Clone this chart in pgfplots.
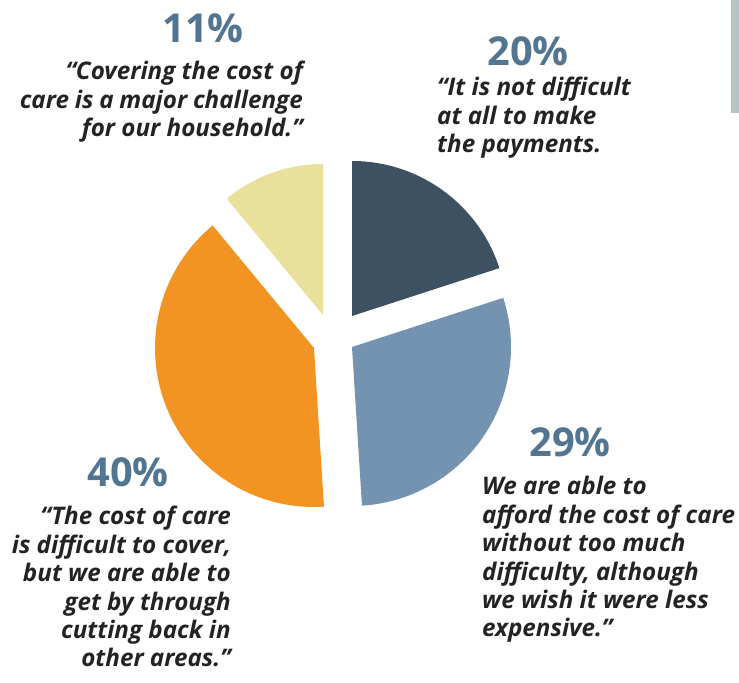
\documentclass[border=0pt]{standalone}
\usepackage{fontspec}
\setmainfont{Open Sans}
\usepackage{pgfplots}
\usepackage{pgfplotstable}
\pgfplotsset{compat=1.18}

\definecolor{sliceA}{RGB}{61,81,99}
\definecolor{sliceB}{RGB}{115,147,176}
\definecolor{sliceC}{RGB}{243,148,34}
\definecolor{sliceD}{RGB}{232,224,155}
\definecolor{pctcol}{RGB}{82,117,145}
\definecolor{qcol}{RGB}{35,35,35}
\definecolor{stripcol}{RGB}{180,196,196}

% share (%), apex of the pulled-out slice (x,y), radius, colour
\pgfplotstableread{
value cx cy r col
20 352 367 155 sliceA
29 352 336 159 sliceB
40 314 335 159 sliceC
11 323 368 151 sliceD
}\slices

\newcommand\pctfont{\fontsize{40}{42}\selectfont\bfseries}
\newcommand\qfont{\fontsize{24.3}{28.5}\selectfont\bfseries\itshape}

\begin{document}
\begin{tikzpicture}
\begin{axis}[
  scale only axis, width=739bp, height=683bp,
  xmin=0, xmax=739, ymin=0, ymax=683,
  hide axis, clip=false,
]
\path (axis cs:0,0) rectangle (axis cs:739,683);
\fill[stripcol] (axis cs:731,570) rectangle (axis cs:739,683);

\xdef\startang{90}
\pgfplotsinvokeforeach{0,...,3}{
  \pgfplotstablegetelem{#1}{value}\of\slices \let\sv\pgfplotsretval
  \pgfplotstablegetelem{#1}{cx}\of\slices \let\sx\pgfplotsretval
  \pgfplotstablegetelem{#1}{cy}\of\slices \let\sy\pgfplotsretval
  \pgfplotstablegetelem{#1}{r}\of\slices \let\sr\pgfplotsretval
  \pgfplotstablegetelem{#1}{col}\of\slices \let\sc\pgfplotsretval
  \pgfmathsetmacro\endang{\startang-3.6*\sv}
  \edef\doslice{\noexpand\fill[\sc] (axis cs:\sx,\sy) -- ++(\startang:\sr bp)
    arc[start angle=\startang, end angle=\endang, radius=\sr bp] -- cycle;}
  \doslice
  \xdef\startang{\endang}
}

% percentages
\node[anchor=base, text=pctcol, font=\pctfont] at (axis cs:203,640) {11\%};
\node[anchor=base, text=pctcol, font=\pctfont] at (axis cs:528,617) {20\%};
\node[anchor=base, text=pctcol, font=\pctfont] at (axis cs:570,226) {29\%};
\node[anchor=base, text=pctcol, font=\pctfont] at (axis cs:128,196) {40\%};

% quotes
\node[anchor=base east, inner sep=0pt, text=qcol] at (axis cs:303,603)
  {\qfont\begin{tabular}[t]{@{}r@{}}“Covering the cost of\\\makebox[283bp][s]{care is a major challenge}\hspace{8bp}\\for our household.”\end{tabular}};
\node[anchor=base west, inner sep=0pt, text=qcol] at (axis cs:437,587)
  {\qfont\begin{tabular}[t]{@{}l@{}}“It is not difficult\\at all to make\\the payments.\end{tabular}};
\node[anchor=base west, inner sep=0pt, text=qcol] at (axis cs:482,188)
  {\qfont\begin{tabular}[t]{@{}l@{}}We are able to\\afford the cost of care\\without too much\\difficulty, although\\we wish it were less\\expensive.”\end{tabular}};
\node[anchor=base east, inner sep=0pt, text=qcol] at (axis cs:231,158)
  {\qfont\begin{tabular}[t]{@{}r@{}}“The cost of care\\is difficult to cover,\\but we are able to\hspace{8bp}\\get by through\hspace{8bp}\\cutting back in\hspace{8bp}\\other areas.”\end{tabular}};
\end{axis}
\end{tikzpicture}
\end{document}
